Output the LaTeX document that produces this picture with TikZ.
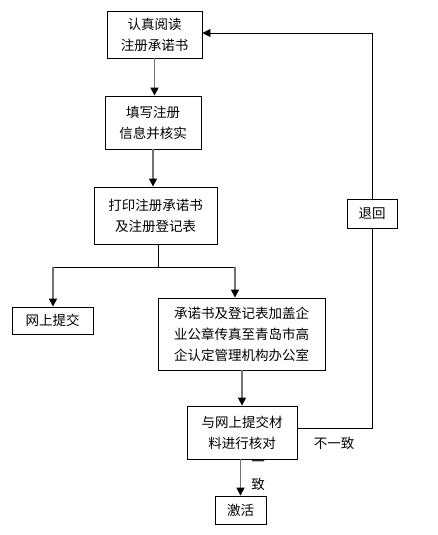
\documentclass[tikz,border=0pt]{standalone}
\usepackage{fontspec}
\setmainfont{Noto Sans CJK SC}
\usetikzlibrary{arrows.meta}
\begin{document}
\begin{tikzpicture}[x=1pt,y=-1pt,
  box/.style={draw=black,line width=0.9pt,inner sep=0pt,align=center,font=\fontsize{13.5}{21}\selectfont},
  arr/.style={draw=gray!90!black,line width=1.6pt,-{Triangle[length=8pt,width=8pt,fill=black,color=black]}},
  thin/.style={draw=black,line width=0.9pt},
  lab/.style={font=\fontsize{13.5}{23}\selectfont,align=center,inner sep=0pt}]
\useasboundingbox (0,0) rectangle (438,535);
\node[box,minimum width=95pt,minimum height=47pt] (b1) at (154.5,34.5) {认真阅读\\注册承诺书};
\node[box,minimum width=96pt,minimum height=53pt] (b2) at (153,122.5) {填写注册\\信息并核实};
\node[box,minimum width=123pt,minimum height=57pt] (b3) at (155.5,215.5) {打印注册承诺书\\及注册登记表};
\node[box,minimum width=81pt,minimum height=27pt] (web) at (52.5,320.5) {网上提交};
\node[box,minimum width=167pt,minimum height=72pt] (b4) at (241.5,334) {承诺书及登记表加盖企\\业公章传真至青岛市高\\企认定管理机构办公室};
\node[box,minimum width=110pt,minimum height=53pt] (b5) at (242,432.5) {与网上提交材\\料进行核对};
\node[box,minimum width=51pt,minimum height=28pt] (b6) at (240.5,510) {激活};
\node[box,minimum width=50pt,minimum height=29pt] (back) at (372,213.5) {退回};
\node[lab] (no) at (334,443) {不一致};
\node[lab] (yes) at (258,476) {一\\致};
\coordinate (j) at (158,267);
\coordinate (jl) at (53,267);
\coordinate (jr) at (235,267);
\coordinate (f1) at (297,428);
\coordinate (f2) at (372,428);
\coordinate (f3) at (372,33);
\draw[arr] (b1.south) -- (b1.south |- b2.north);
\draw[arr] (b2.south) -- (b2.south |- b3.north);
\draw[thin] (b3.south -| j) -- (j);
\draw[thin] (jl) -- (jr);
\draw[arr] (jl) -- (jl |- web.north);
\draw[arr] (jr) -- (jr |- b4.north);
\draw[arr] (b4.south -| b5.north) -- (b5.north);
\draw[arr] (b5.south -| b6.north) -- (b6.north);
\draw[thin] (f1) -- (f2) -- (back.south);
\draw[thin,-{Triangle[length=8pt,width=8pt]}] (back.north) -- (f3) -- (f3 -| b1.east);
\end{tikzpicture}
\end{document}
